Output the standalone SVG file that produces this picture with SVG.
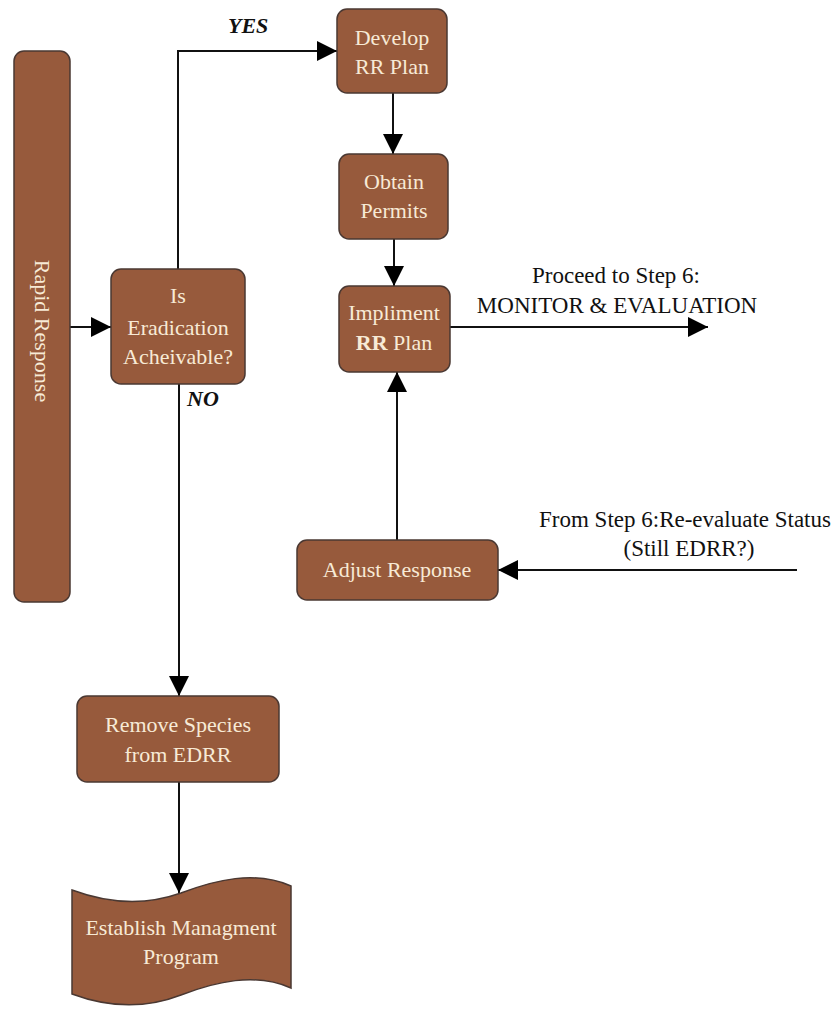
<svg xmlns="http://www.w3.org/2000/svg" width="838" height="1009" viewBox="0 0 838 1009">
<style>
.box{fill:#975a3c;stroke:#4a3832;stroke-width:1.5}
.bt{font-family:"Liberation Serif","Times New Roman",serif;font-size:22px;fill:#f7ead6;text-anchor:middle}
.lbl{font-family:"Liberation Serif","Times New Roman",serif;font-size:23px;fill:#111;text-anchor:middle}
.yn{font-family:"Liberation Serif","Times New Roman",serif;font-size:22px;fill:#111;font-weight:bold;font-style:italic}
.ln{fill:none;stroke:#111;stroke-width:2;marker-end:url(#ah)}
</style>
<defs>
<marker id="ah" markerUnits="userSpaceOnUse" markerWidth="20" markerHeight="20" refX="20" refY="10" orient="auto">
<path d="M0,0 L20,10 L0,20 z" fill="#000"/>
</marker>
</defs>
<rect width="838" height="1009" fill="#fff"/>
<g id="connectors">
<path class="ln" d="M70,327 H111"/>
<path class="ln" d="M178,269 V51 H337"/>
<path class="ln" d="M393,93 V154"/>
<path class="ln" d="M394,239 V286"/>
<path class="ln" d="M450,327 H708"/>
<path class="ln" d="M397,540 V372"/>
<path class="ln" d="M797,570 H498"/>
<path class="ln" d="M179,384 V696"/>
<path class="ln" d="M179,782 V893"/>
<text class="yn" x="228" y="33">YES</text>
<text class="yn" x="187" y="406">NO</text>
<text class="lbl" x="616" y="283">Proceed to Step 6:</text>
<text class="lbl" x="617" y="313">MONITOR &amp; EVALUATION</text>
<text class="lbl" x="685" y="527">From Step 6:Re-evaluate Status</text>
<text class="lbl" x="689" y="556">(Still EDRR?)</text>
</g>
<g id="rapid">
<rect class="box" x="14" y="51" width="56" height="551" rx="10"/>
<text class="bt" transform="translate(35,331) rotate(90)" x="0" y="0">Rapid Response</text>
</g>
<g id="is-eradication">
<rect class="box" x="111" y="269" width="134" height="115" rx="10"/>
<text class="bt" x="178" y="303">Is</text>
<text class="bt" x="178" y="335">Eradication</text>
<text class="bt" x="178" y="364">Acheivable?</text>
</g>
<g id="develop">
<rect class="box" x="337" y="9" width="110" height="84" rx="10"/>
<text class="bt" x="392" y="45">Develop</text>
<text class="bt" x="392" y="74">RR Plan</text>
</g>
<g id="obtain">
<rect class="box" x="339" y="154" width="109" height="85" rx="10"/>
<text class="bt" x="394" y="189">Obtain</text>
<text class="bt" x="394" y="218">Permits</text>
</g>
<g id="impliment">
<rect class="box" x="339" y="286" width="111" height="86" rx="10"/>
<text class="bt" x="394" y="320">Impliment</text>
<text class="bt" x="394" y="350"><tspan font-weight="bold">RR</tspan> Plan</text>
</g>
<g id="adjust">
<rect class="box" x="297" y="540" width="201" height="60" rx="10"/>
<text class="bt" x="397" y="577">Adjust Response</text>
</g>
<g id="remove">
<rect class="box" x="77" y="696" width="202" height="86" rx="10"/>
<text class="bt" x="178" y="732">Remove Species</text>
<text class="bt" x="178" y="762">from EDRR</text>
</g>
<g id="establish">
<path class="box" d="M72,890 C115,906 150,904 181,893 C215,880 255,870 291,886 L291,988 C255,972 215,982 181,995 C150,1007 115,1010 72,994 Z"/>
<text class="bt" x="181" y="935">Establish Managment</text>
<text class="bt" x="181" y="964">Program</text>
</g>
</svg>
